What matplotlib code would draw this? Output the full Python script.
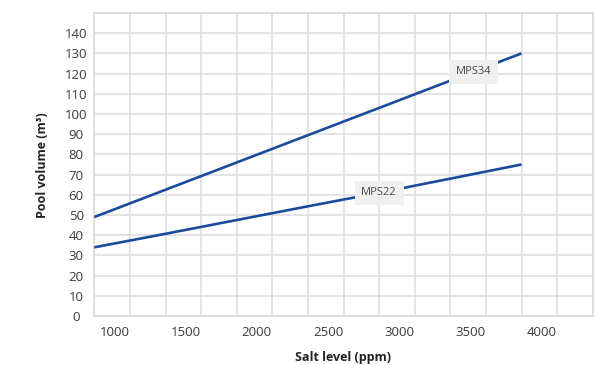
import numpy as np
import matplotlib
matplotlib.use("Agg")
import matplotlib.pyplot as plt
import matplotlib.transforms as mtransforms

plt.rcParams['font.family'] = ['Open Sans', 'DejaVu Sans']

# ---------------- data ----------------
salt_ppm = [1000, 1500, 2000, 2500, 3000, 3500, 4000]
mps34 = [49, 62.5, 76, 89.5, 103, 116.5, 130]
mps22 = [34, 40.7, 47.5, 54.3, 61, 68, 75]
series_names = ['MPS34', 'MPS22']
label_at = [3663, 3000]          # salt level where each tag sits

x_ticks = [1000, 1500, 2000, 2500, 3000, 3500, 4000]
y_ticks = list(range(0, 150, 10))

LINE = '#1a4b9c'
GRID = '#dcdcdc'
TXT = '#3a3a3a'

W, H = 595, 365
fig = plt.figure(figsize=(W / 100, H / 100), dpi=100)
ax = fig.add_axes([94.3 / W, 1 - 316 / H, (592.7 - 94.3) / W, (316 - 13) / H])

ax.set_xlim(1000, 4500)
ax.set_ylim(0, 150)

# grid every 250 ppm / 10 m3
ax.set_xticks(np.arange(1000, 4501, 250), minor=True)
ax.set_yticks(np.arange(0, 151, 10), minor=True)
ax.set_xticks(x_ticks)
ax.set_xticklabels([str(v) for v in x_ticks])
ax.set_yticks(y_ticks)
ax.set_yticklabels([str(v) for v in y_ticks])
ax.grid(True, which='both', color=GRID, lw=1.1)
ax.set_axisbelow(True)
for s in ax.spines.values():
    s.set_color(GRID)
    s.set_linewidth(1.3)

ax.tick_params(which='both', length=0)
ax.tick_params(axis='x', labelsize=9.5, colors=TXT, pad=7)
ax.tick_params(axis='y', labelsize=9.5, colors=TXT, pad=13)

shift = mtransforms.ScaledTranslation(5 / 100, 0, fig.dpi_scale_trans)
for lab in ax.get_xticklabels():
    lab.set_ha('left')
    lab.set_transform(lab.get_transform() + shift)
for lab in ax.get_yticklabels():
    lab.set_ha('center')

for ys, name, xl in zip([mps34, mps22], series_names, label_at):
    ax.plot(salt_ppm, ys, color=LINE, lw=1.9, solid_capstyle='butt', zorder=3)
    yl = np.interp(xl, salt_ppm, ys)
    ax.text(xl, yl, name, ha='center', va='center', fontsize=8, color='#4a4a4a',
            zorder=4, bbox=dict(boxstyle='square,pad=0.6', fc='#eff0f0', ec='none'))

fig.text(343.5 / W, 1 - 357 / H, 'Salt level (ppm)', ha='center', va='center',
         fontsize=9, fontweight='bold', color='#222222')
fig.text(42 / W, 1 - 165 / H, 'Pool volume (m³)', ha='center', va='center',
         rotation=90, fontsize=9, fontweight='bold', color='#222222')

fig.savefig('out.png', dpi=100)
